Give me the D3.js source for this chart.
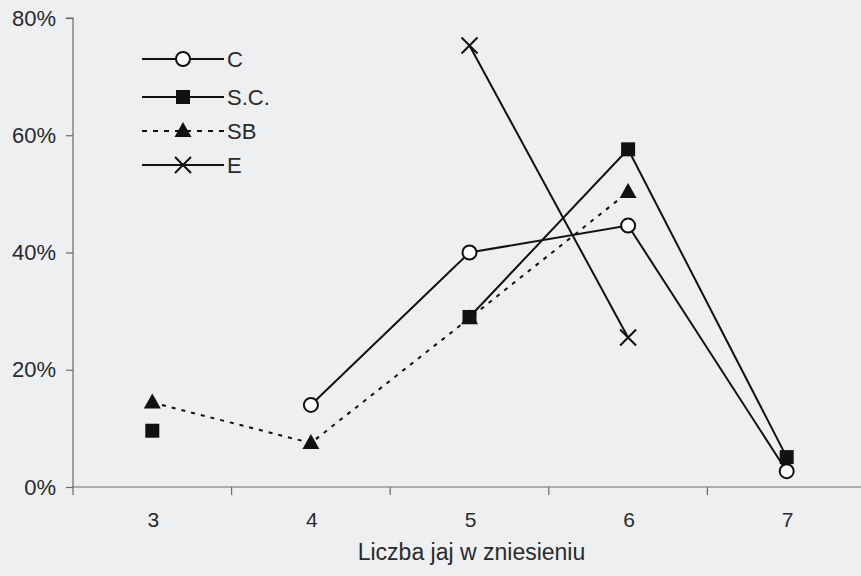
<!DOCTYPE html>
<html><head><meta charset="utf-8">
<script src="https://cdn.jsdelivr.net/npm/d3@7"></script>
<style>body{margin:0;background:#edeff0;}svg{display:block;}</style>
</head><body>
<script>
const categories = [3, 4, 5, 6, 7];
const seriesNames = ["C", "S.C.", "SB", "E"];
const valuesC  = [null, 14.0, 40.0, 44.6, 2.7];
const valuesSC = [9.6, null, 29.0, 57.6, 5.1];
const valuesSB = [14.4, 7.5, 28.8, 50.3, null];
const valuesE  = [null, null, 75.3, 25.5, null];
const yTicks = [0, 20, 40, 60, 80];
const xTitle = "Liczba jaj w zniesieniu";

(function () {
const W = 861, H = 576;
const svg = d3.select("body").append("svg").attr("width", W).attr("height", H);
svg.append("rect").attr("width", W).attr("height", H).attr("fill", "#edeff0");

const mLeft = 73, mTop = 18, mBottom = 487, mRight = 866;
const x = d3.scaleBand().domain(categories).range([mLeft, mRight]).paddingInner(0).paddingOuter(0);
const y = d3.scaleLinear().domain([0, 80]).range([mBottom, mTop]);
const font = "Liberation Sans, Arial, sans-serif";
const axisColor = "#6a6a6a";
const textColor = "#2a2a2a";

// Y axis
const yAx = svg.append("g").attr("transform", `translate(${mLeft},0)`)
  .call(d3.axisLeft(y).tickValues(yTicks).tickFormat(d => d + "%").tickSize(7).tickPadding(10));
yAx.select(".domain").attr("stroke", axisColor).attr("stroke-width", 1.2).attr("d", `M-7,${mTop}H0V${mBottom}`);
yAx.selectAll(".tick line").attr("stroke", axisColor).attr("stroke-width", 1.2);
yAx.selectAll("text").attr("font-family", font).attr("font-size", 22).attr("fill", textColor);

// X axis
const xAx = svg.append("g").attr("transform", `translate(0,${mBottom})`);
xAx.append("line").attr("x1", mLeft).attr("x2", W).attr("y1", 0).attr("y2", 0)
  .attr("stroke", axisColor).attr("stroke-width", 1.2);
const bounds = categories.map(c => x(c)).concat([x(categories[categories.length-1]) + x.bandwidth()]);
xAx.selectAll("line.t").data(bounds).join("line").attr("class", "t")
  .attr("x1", d => d).attr("x2", d => d).attr("y1", 0).attr("y2", 8)
  .attr("stroke", axisColor).attr("stroke-width", 1.2);
xAx.selectAll("text.l").data(categories).join("text").attr("class", "l")
  .attr("x", d => x(d) + x.bandwidth()/2 + 1).attr("y", 40)
  .attr("text-anchor", "middle").attr("font-family", font).attr("font-size", 21).attr("fill", textColor)
  .text(d => d);
svg.append("text").attr("x", x(5) + x.bandwidth()/2 + 2).attr("y", 560)
  .attr("text-anchor", "middle").attr("font-family", font).attr("font-size", 23).attr("fill", textColor)
  .text(xTitle);

const cx = c => x(c) + x.bandwidth()/2;
const series = [
  {name: seriesNames[0], vals: valuesC, dash: null, marker: "circle"},
  {name: seriesNames[1], vals: valuesSC, dash: null, marker: "square"},
  {name: seriesNames[2], vals: valuesSB, dash: "4,6", marker: "triangle"},
  {name: seriesNames[3], vals: valuesE, dash: null, marker: "cross"}
];
const line = d3.line().defined(d => d.v !== null).x(d => cx(d.c)).y(d => y(d.v));

function drawMarker(g, type, px, py) {
  if (type === "circle") {
    g.append("circle").attr("cx", px).attr("cy", py).attr("r", 7)
      .attr("fill", "#fff").attr("stroke", "#111").attr("stroke-width", 2);
  } else if (type === "square") {
    g.append("rect").attr("x", px - 7).attr("y", py - 7).attr("width", 14).attr("height", 14).attr("fill", "#111");
  } else if (type === "triangle") {
    g.append("path").attr("d", `M${px},${py-9}L${px+8.5},${py+6}L${px-8.5},${py+6}Z`).attr("fill", "#111");
  } else if (type === "cross") {
    g.append("path").attr("d", `M${px-8},${py-8}L${px+8},${py+8}M${px-8},${py+8}L${px+8},${py-8}`)
      .attr("stroke", "#111").attr("stroke-width", 2);
  }
}

const plot = svg.append("g");
series.forEach(s => {
  const data = categories.map((c, i) => ({c, v: s.vals[i]}));
  plot.append("path").datum(data).attr("d", line).attr("fill", "none")
    .attr("stroke", "#111").attr("stroke-width", 2)
    .attr("stroke-dasharray", s.dash);
});
[series[2], series[3], series[0], series[1]].forEach(s => {
  categories.forEach((c, i) => {
    if (s.vals[i] !== null) drawMarker(plot, s.marker, cx(c), y(s.vals[i]));
  });
});

// Legend
const legY = [59, 97, 131, 165];
const lg = svg.append("g");
series.forEach((s, i) => {
  const ly = legY[i];
  lg.append("line").attr("x1", 142).attr("x2", 224).attr("y1", ly).attr("y2", ly)
    .attr("stroke", "#111").attr("stroke-width", 2).attr("stroke-dasharray", s.dash ? "5,6" : null);
  drawMarker(lg, s.marker, 183, ly);
  lg.append("text").attr("x", 227).attr("y", ly + 8).attr("font-family", font).attr("font-size", 22)
    .attr("fill", textColor).text(s.name);
});
})();
</script>
</body></html>
